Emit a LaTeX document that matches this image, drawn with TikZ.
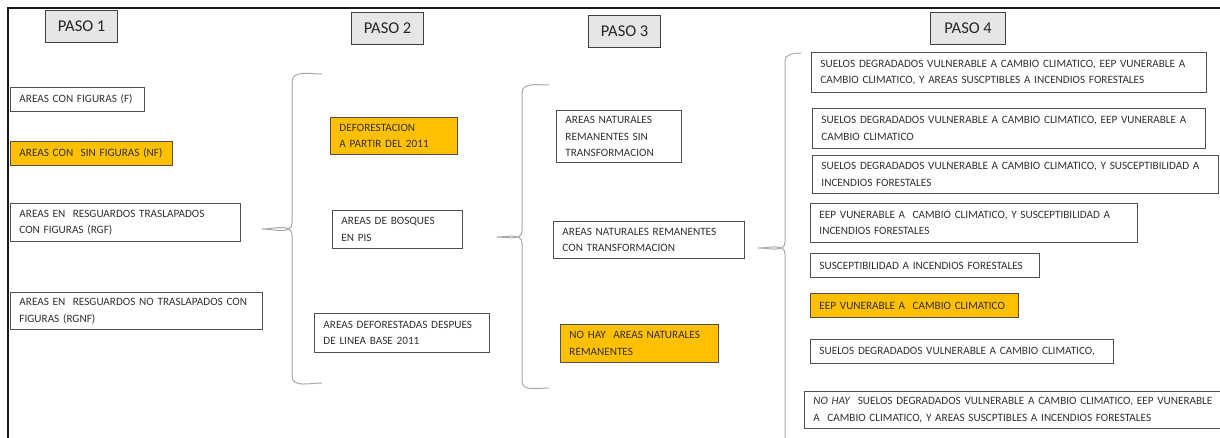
\documentclass[tikz,border=0pt]{standalone}
\usepackage{fontspec}
\setmainfont{Carlito}
\usepackage{tikz}

\definecolor{naranja}{HTML}{FFC000}
\definecolor{bordecaja}{HTML}{4F4F4F}
\definecolor{textocaja}{HTML}{303030}
\definecolor{grispaso}{HTML}{E6E6E6}
\definecolor{bordepaso}{HTML}{404040}
\definecolor{grisllave}{HTML}{A8A8A8}

\begin{document}
\begin{tikzpicture}[x=1pt, y=-1pt,
    caja/.style={draw=bordecaja, line width=0.9pt, anchor=north west, align=left,
        inner xsep=9pt, inner ysep=2pt, text=textocaja,
        font=\fontsize{11.2}{16.5}\selectfont},
    resaltada/.style={caja, fill=naranja},
    paso/.style={draw=bordepaso, fill=grispaso, line width=1.2pt, anchor=north west,
        minimum width=72pt, minimum height=32pt, inner sep=0pt, text=black!85,
        font=\fontsize{16.5}{18}\selectfont},
    llave/.style={draw=grisllave, line width=1pt}]
\useasboundingbox (0,0) rectangle (1220,438);

% marco
\draw[line width=2pt, black!90] (8,438) -- (8,8) -- (1220,8);

% titulos
\node[paso] (p1) at (45,10) {PASO 1};
\node[paso] (p2) at (351,12) {PASO 2};
\node[paso] (p3) at (588,15) {PASO 3};
\node[paso, minimum width=75pt] (p4) at (930,12) {PASO 4};

% paso 1
\node[caja, text width=116pt, minimum height=24pt] (f) at (10,87) {AREAS CON FIGURAS (F)};
\node[resaltada, text width=144pt, minimum height=24pt] (nf) at (10,141) {AREAS CON\ \ SIN FIGURAS (NF)};
\node[caja, text width=212pt, minimum height=38pt] (rgf) at (10,203) {AREAS EN\ \ RESGUARDOS TRASLAPADOS\\CON FIGURAS (RGF)};
\node[caja, text width=234pt, minimum height=37pt] (rgnf) at (10,292) {AREAS EN\ \ RESGUARDOS NO TRASLAPADOS CON\\FIGURAS (RGNF)};

% paso 2
\node[resaltada, text width=109pt, minimum height=37pt] (def) at (330,117) {DEFORESTACION\\A PARTIR DEL 2011};
\node[caja, text width=112pt, minimum height=38pt] (bos) at (332,210) {AREAS DE BOSQUES\\EN PIS};
\node[caja, text width=157pt, minimum height=39pt] (dlb) at (314,313) {AREAS DEFORESTADAS DESPUES\\DE LINEA BASE 2011};

% paso 3
\node[caja, text width=107pt, minimum height=52pt] (sin) at (556,110) {AREAS NATURALES\\REMANENTES SIN\\TRANSFORMACION};
\node[caja, text width=173pt, minimum height=37pt] (con) at (553,221) {AREAS NATURALES REMANENTES\\CON TRANSFORMACION};
\node[resaltada, text width=140pt, minimum height=38pt] (noh) at (560,324) {NO HAY\ \ AREAS NATURALES\\REMANENTES};

% paso 4
\node[caja, text width=377pt, minimum height=40pt] (b1) at (811,52) {SUELOS DEGRADADOS VULNERABLE A CAMBIO CLIMATICO, EEP VUNERABLE A\\CAMBIO CLIMATICO, Y AREAS SUSCPTIBLES A INCENDIOS FORESTALES};
\node[caja, text width=375pt, minimum height=40pt] (b2) at (812,108) {SUELOS DEGRADADOS VULNERABLE A CAMBIO CLIMATICO, EEP VUNERABLE A\\CAMBIO CLIMATICO};
\node[caja, text width=388pt, minimum height=38pt] (b3) at (812,155) {SUELOS DEGRADADOS VULNERABLE A CAMBIO CLIMATICO, Y SUSCEPTIBILIDAD A\\INCENDIOS FORESTALES};
\node[caja, text width=309pt, minimum height=39pt] (b4) at (810,203) {EEP VUNERABLE A\ \ CAMBIO CLIMATICO, Y SUSCEPTIBILIDAD A\\INCENDIOS FORESTALES};
\node[caja, text width=211pt, minimum height=24pt] (b5) at (810,253) {SUSCEPTIBILIDAD A INCENDIOS FORESTALES};
\node[resaltada, text width=190pt, minimum height=24pt] (b6) at (810,293) {EEP VUNERABLE A\ \ CAMBIO CLIMATICO};
\node[caja, text width=285pt, minimum height=24pt] (b7) at (810,339) {SUELOS DEGRADADOS VULNERABLE A CAMBIO CLIMATICO,};
\node[caja, text width=412pt, minimum height=37pt] (b8) at (804,391) {\textit{NO HAY}\ \ SUELOS DEGRADADOS VULNERABLE A CAMBIO CLIMATICO, EEP VUNERABLE\\A\ \ CAMBIO CLIMATICO, Y AREAS SUSCPTIBLES A INCENDIOS FORESTALES};

% llaves
\draw[llave] (322,74) to[out=180,in=90] (292,82) -- (292,223)
    to[out=-90,in=0] (262,229) to[out=0,in=90] (292,235) -- (292,376)
    to[out=-90,in=180] (322,383);
\draw[llave] (549,85) to[out=180,in=90] (522,93) -- (522,231)
    to[out=-90,in=0] (497,237) to[out=0,in=90] (522,243) -- (522,381)
    to[out=-90,in=180] (549,388);
\draw[llave] (801,53) to[out=180,in=90] (785,61) -- (785,242)
    to[out=-90,in=0] (758,248) to[out=0,in=90] (785,254) -- (785,438);

\end{tikzpicture}
\end{document}
